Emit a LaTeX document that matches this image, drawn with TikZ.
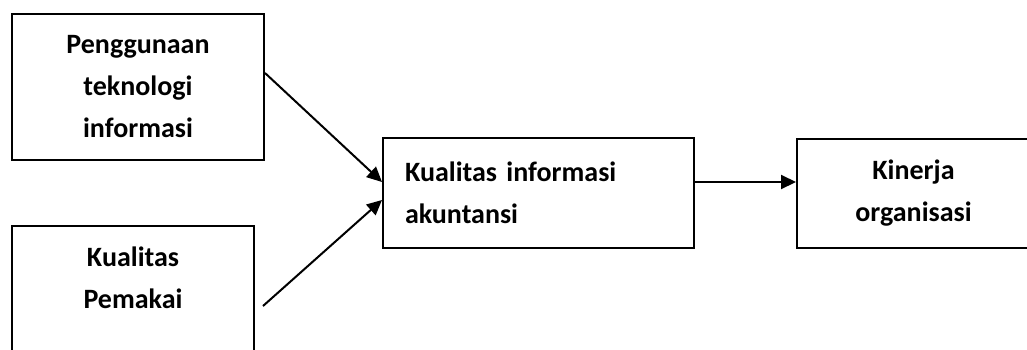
\documentclass[tikz,border=0pt]{standalone}
\usepackage{fontspec}
\setmainfont{Carlito}
\usetikzlibrary{arrows.meta}
\begin{document}
\begin{tikzpicture}[x=1pt,y=-1pt,
  txt/.style={font=\bfseries\fontsize{28}{42}\selectfont},
  box/.style={draw,line width=2pt,rectangle,inner sep=0pt,txt},
  lbl/.style={inner sep=0pt,txt,align=center},
  arr/.style={line width=2pt,-{Triangle[length=15pt,width=14pt]}}]
\useasboundingbox (0,0) rectangle (1027,349);
\clip (0,0) rectangle (1027,349);
\node[box,minimum width=252pt,minimum height=146pt,align=center] (b1) at (138,87) {Penggunaan\\teknologi\\informasi};
\node[box,minimum width=242pt,minimum height=144pt] (b2) at (133,298) {};
\node[lbl] (t2) at (133,277.5) {Kualitas\\Pemakai};
\node[box,minimum width=311pt,minimum height=110pt,text width=267pt,align=left] (b3) at (538.5,193) {Kualitas informasi\\akuntansi};
\node[box,minimum width=233pt,minimum height=109pt,align=center] (b4) at (913.5,193.5) {Kinerja\\organisasi};
\coordinate (s2) at (263,306);
\draw[arr] ([yshift=14pt]b1.east) -- ([yshift=11pt]b3.west);
\draw[arr] (s2) -- ([yshift=-7pt]b3.west);
\draw[arr] ([yshift=11pt]b3.east) -- ([yshift=11pt]b3.east -| b4.west);
\end{tikzpicture}
\end{document}
